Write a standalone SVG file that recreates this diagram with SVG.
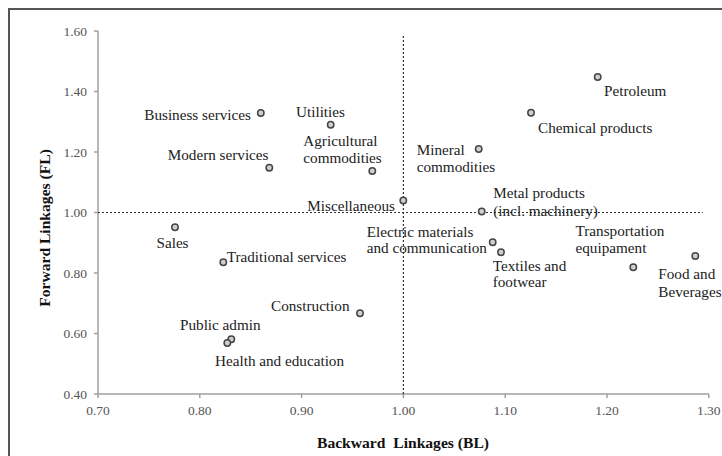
<svg xmlns="http://www.w3.org/2000/svg" width="722" height="456" viewBox="0 0 722 456">
<style>
.lbl{font-family:"Liberation Serif","Times New Roman",serif;font-size:15.2px;fill:#222}
.tick{font-family:"Liberation Serif","Times New Roman",serif;font-size:13.5px;fill:#555}
.title{font-family:"Liberation Serif","Times New Roman",serif;font-size:15.6px;font-weight:bold;fill:#111;white-space:pre}
.axis{stroke:#a0a0a0;stroke-width:1.5;fill:none}
.ref{stroke:#333;stroke-width:1.2;stroke-dasharray:2 2;fill:none}
.pt{fill:#cfcfcf;stroke:#444;stroke-width:1.5}
</style>
<rect width="722" height="456" fill="#fff"/>
<g id="frame"><path d="M9 456 V9 H722" stroke="#555" stroke-width="2" fill="none"/></g>
<g id="axes">
<path class="axis" d="M98 31 V394 H709"/>
<path class="axis" d="M94 31H98M94 91.5H98M94 152H98M94 212.5H98M94 273H98M94 333.5H98M94 394H98"/>
<path class="axis" d="M98 394V398M199.8 394V398M301.6 394V398M403.4 394V398M505.2 394V398M607 394V398M708.8 394V398"/>
<g class="tick" text-anchor="end">
<text x="87" y="35.5">1.60</text><text x="87" y="96">1.40</text><text x="87" y="156.5">1.20</text><text x="87" y="217">1.00</text><text x="87" y="277.5">0.80</text><text x="87" y="338">0.60</text><text x="87" y="398.5">0.40</text>
</g>
<g class="tick" text-anchor="middle">
<text x="98" y="414.5">0.70</text><text x="199.8" y="414.5">0.80</text><text x="301.6" y="414.5">0.90</text><text x="403.4" y="414.5">1.00</text><text x="505.2" y="414.5">1.10</text><text x="607" y="414.5">1.20</text><text x="708.8" y="414.5">1.30</text>
</g>
<text class="title" x="403" y="448" text-anchor="middle">Backward  Linkages (BL)</text>
<text class="title" x="0" y="0" text-anchor="middle" transform="translate(50 228) rotate(-90)">Forward Linkages (FL)</text>
</g>
<g id="connectors">
<path class="ref" d="M98 212.5H703"/>
<path class="ref" d="M403.4 36V394"/>
</g>
<g id="petroleum"><circle class="pt" cx="597.7" cy="77" r="3.2"/><text class="lbl" x="604" y="96">Petroleum</text></g>
<g id="chemical"><circle class="pt" cx="531" cy="112.7" r="3.2"/><text class="lbl" x="538" y="133">Chemical products</text></g>
<g id="business"><circle class="pt" cx="260.8" cy="113" r="3.2"/><text class="lbl" x="251" y="120" text-anchor="end">Business services</text></g>
<g id="utilities"><circle class="pt" cx="330.7" cy="124.7" r="3.2"/><text class="lbl" x="296" y="117">Utilities</text></g>
<g id="modern"><circle class="pt" cx="269.3" cy="167.7" r="3.2"/><text class="lbl" x="268.5" y="159.5" text-anchor="end">Modern services</text></g>
<g id="agricultural"><circle class="pt" cx="372.3" cy="171" r="3.2"/><text class="lbl" x="303.3" y="145.5">Agricultural</text><text class="lbl" x="303.3" y="163">commodities</text></g>
<g id="mineral"><circle class="pt" cx="478.7" cy="149" r="3.2"/><text class="lbl" x="416.7" y="154.5">Mineral</text><text class="lbl" x="416.7" y="172">commodities</text></g>
<g id="miscellaneous"><circle class="pt" cx="403.3" cy="200.5" r="3.2"/><text class="lbl" x="395" y="210.5" text-anchor="end">Miscellaneous</text></g>
<g id="metal"><circle class="pt" cx="481.7" cy="211.5" r="3.2"/><text class="lbl" x="493.3" y="198.3">Metal products</text><text class="lbl" x="493.3" y="215.5">(incl. machinery)</text></g>
<g id="sales"><circle class="pt" cx="175" cy="227.3" r="3.2"/><text class="lbl" x="172.5" y="248" text-anchor="middle">Sales</text></g>
<g id="traditional"><circle class="pt" cx="223.3" cy="262.3" r="3.2"/><text class="lbl" x="226.7" y="261.7">Traditional services</text></g>
<g id="electric"><circle class="pt" cx="492.7" cy="242.3" r="3.2"/><text class="lbl" x="366.7" y="236.7">Electric materials</text><text class="lbl" x="366.7" y="253.3">and communication</text></g>
<g id="textiles"><circle class="pt" cx="501" cy="252.3" r="3.2"/><text class="lbl" x="492.7" y="270.5">Textiles and</text><text class="lbl" x="492.7" y="287">footwear</text></g>
<g id="transportation"><circle class="pt" cx="633.3" cy="267.3" r="3.2"/><text class="lbl" x="575.5" y="235.5">Transportation</text><text class="lbl" x="575.5" y="252.7">equipament</text></g>
<g id="food"><circle class="pt" cx="695.3" cy="256" r="3.2"/><text class="lbl" x="658.3" y="279">Food and</text><text class="lbl" x="658.3" y="297">Beverages</text></g>
<g id="construction"><circle class="pt" cx="360" cy="313.3" r="3.2"/><text class="lbl" x="349.5" y="310.7" text-anchor="end">Construction</text></g>
<g id="public-admin"><circle class="pt" cx="231.3" cy="339.3" r="3.2"/><text class="lbl" x="180" y="330">Public admin</text></g>
<g id="health"><circle class="pt" cx="227.3" cy="343" r="3.2"/><text class="lbl" x="215" y="365.7">Health and education</text></g>
</svg>
